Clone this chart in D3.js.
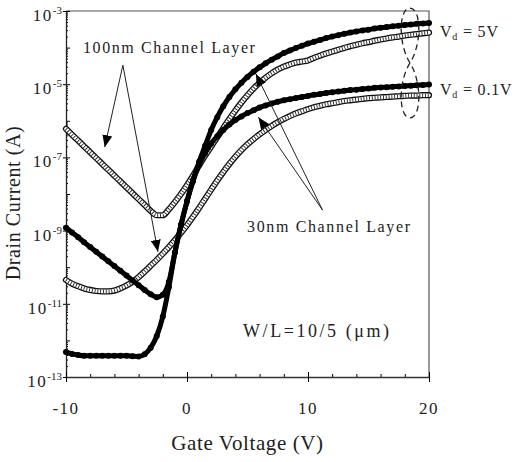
<!DOCTYPE html>
<html lang="en">
<head>
<meta charset="UTF-8">
<title>Drain Current vs Gate Voltage</title>
<script src="https://d3js.org/d3.v7.min.js"></script>
<style>
  body { margin: 0; background: #fff; }
  svg { display: block; font-family: "Liberation Serif", "Times New Roman", serif; }
</style>
</head>
<body>
<svg id="chart" width="521" height="462"></svg>
<script>
// Gate voltage sweep (V)
const gateVoltage = [-10, -9.5, -9, -8.5, -8, -7.5, -7, -6.5, -6, -5.5, -5, -4.5, -4, -3.5, -3, -2.5, -2, -1.5, -1, -0.5,
  0, 0.5, 1, 1.5, 2, 2.5, 3, 3.5, 4, 4.5, 5, 5.5, 6, 6.5, 7, 7.5, 8, 8.5, 9, 9.5,
  10, 10.5, 11, 11.5, 12, 12.5, 13, 13.5, 14, 14.5, 15, 15.5, 16, 16.5, 17, 17.5, 18, 18.5, 19, 19.5, 20];

// log10 of drain current (A)
// 100nm channel (open circles)
const log100nm5V = [-6.22, -6.38, -6.54, -6.70, -6.86, -7.02, -7.18, -7.34, -7.50, -7.66, -7.82, -7.98, -8.14, -8.30, -8.46, -8.58, -8.58, -8.42, -8.22, -8.00,
  -7.76, -7.50, -7.22, -6.95, -6.70, -6.45, -6.20, -5.95, -5.72, -5.50, -5.30, -5.12, -4.96, -4.82, -4.70, -4.60, -4.52, -4.46, -4.41, -4.38,
  -4.35, -4.28, -4.22, -4.16, -4.11, -4.06, -4.01, -3.96, -3.92, -3.88, -3.85, -3.81, -3.78, -3.75, -3.72, -3.70, -3.67, -3.65, -3.63, -3.61, -3.59];
const log100nm01V = [-10.35, -10.45, -10.52, -10.58, -10.62, -10.65, -10.66, -10.66, -10.64, -10.58, -10.50, -10.40, -10.27, -10.12, -9.96, -9.80, -9.63, -9.45, -9.26, -9.06,
  -8.85, -8.62, -8.38, -8.13, -7.88, -7.63, -7.40, -7.18, -6.98, -6.80, -6.64, -6.50, -6.37, -6.25, -6.14, -6.04, -5.95, -5.87, -5.80, -5.74,
  -5.68, -5.63, -5.59, -5.55, -5.52, -5.49, -5.46, -5.44, -5.42, -5.40, -5.38, -5.37, -5.36, -5.35, -5.34, -5.33, -5.32, -5.31, -5.31, -5.30, -5.30];
// 30nm channel (filled circles)
const log30nm5V = [-12.32, -12.37, -12.40, -12.42, -12.42, -12.42, -12.42, -12.42, -12.42, -12.42, -12.42, -12.43, -12.44, -12.38, -12.20, -11.88, -11.35, -10.55, -9.60, -8.85,
  -8.20, -7.62, -7.12, -6.68, -6.25, -5.90, -5.60, -5.35, -5.14, -4.96, -4.80, -4.66, -4.54, -4.43, -4.33, -4.24, -4.15, -4.08, -4.01, -3.95,
  -3.89, -3.84, -3.79, -3.74, -3.70, -3.66, -3.62, -3.59, -3.56, -3.53, -3.51, -3.48, -3.46, -3.44, -3.42, -3.40, -3.38, -3.37, -3.35, -3.34, -3.33];
const log30nm01V = [-8.92, -9.05, -9.18, -9.32, -9.45, -9.58, -9.71, -9.84, -9.97, -10.10, -10.23, -10.36, -10.49, -10.62, -10.74, -10.82, -10.75, -10.40, -9.60, -8.85,
  -8.20, -7.65, -7.20, -6.88, -6.62, -6.42, -6.25, -6.10, -5.98, -5.88, -5.79, -5.71, -5.64, -5.58, -5.53, -5.48, -5.44, -5.41, -5.38, -5.35,
  -5.32, -5.29, -5.27, -5.24, -5.22, -5.20, -5.18, -5.16, -5.15, -5.13, -5.12, -5.10, -5.09, -5.08, -5.07, -5.06, -5.05, -5.04, -5.03, -5.02, -5.01];

// axis ticks
const xLabelTicks = [-10, 0, 10, 20];
const xMinorTicks = [-8, -6, -4, -2, 2, 4, 6, 8, 12, 14, 16, 18];
const yLabelExponents = [-3, -5, -7, -9, -11, -13];

const width = 521, height = 462;
const margin = { top: 11, right: 92, bottom: 85, left: 66 };

const svg = d3.select("#chart");

const x = d3.scaleLinear().domain([-10, 20]).range([margin.left, width - margin.right]);
const y = d3.scaleLog().domain([1e-13, 1e-3]).range([height - margin.bottom, margin.top]);
const amp = e => Math.pow(10, e);

// frame (top + right)
svg.append("path")
   .attr("d", `M${x(-10)},${y(1e-3)}H${x(20)}V${y(1e-13)}`)
   .attr("fill", "none")
   .attr("stroke", "#555")
   .attr("stroke-width", 1.2);

// y axis: minor ticks
const yMinor = [];
for (let k = -13; k < -3; k++) for (let m = 2; m <= 9; m++) yMinor.push(m * Math.pow(10, k));
const yDecades = d3.range(-13, -2).map(amp);

svg.append("g")
   .attr("transform", `translate(${x(-10)},0)`)
   .call(d3.axisRight(y).tickValues(yMinor).tickSize(2).tickSizeOuter(0).tickFormat(""))
   .call(g => g.select(".domain").remove());
svg.append("g")
   .attr("transform", `translate(${x(-10)},0)`)
   .call(d3.axisRight(y).tickValues(yDecades).tickSize(4).tickSizeOuter(0).tickFormat(""))
   .call(g => g.select(".domain").remove());
const yAxis = svg.append("g")
   .attr("transform", `translate(${x(-10)},0)`)
   .call(d3.axisLeft(y).tickValues(yLabelExponents.map(amp)).tickSize(3).tickSizeOuter(0).tickFormat(""));
yAxis.select(".domain").attr("stroke", "#222").attr("stroke-width", 1.3);

const yLab = svg.append("g").selectAll("text")
   .data(yLabelExponents)
   .enter().append("text")
   .attr("x", x(-10) - 4)
   .attr("y", d => y(amp(d)) + 10)
   .attr("text-anchor", "end")
   .attr("fill", "#222");
yLab.append("tspan").attr("font-size", 17).attr("letter-spacing", 1.5).text("10");
yLab.append("tspan").attr("font-size", 11).attr("dy", -7).text(d => String(d));

// x axis
svg.append("g")
   .attr("transform", `translate(0,${y(1e-13)})`)
   .call(d3.axisTop(x).tickValues(xMinorTicks).tickSize(3).tickSizeOuter(0).tickFormat(""))
   .call(g => g.select(".domain").remove());
svg.append("g")
   .attr("transform", `translate(0,${y(1e-13)})`)
   .call(d3.axisTop(x).tickValues(xLabelTicks).tickSize(5).tickSizeOuter(0).tickFormat(""))
   .call(g => g.select(".domain").remove());
const xAxis = svg.append("g")
   .attr("transform", `translate(0,${y(1e-13)})`)
   .call(d3.axisBottom(x).tickValues(xLabelTicks).tickSize(5).tickSizeOuter(0).tickFormat(""));
xAxis.select(".domain").attr("stroke", "#333").attr("stroke-width", 1.3);

svg.append("g").selectAll("text")
   .data(xLabelTicks)
   .enter().append("text")
   .attr("x", d => x(d))
   .attr("y", y(1e-13) + 37)
   .attr("text-anchor", "middle")
   .attr("font-size", 17)
   .attr("letter-spacing", 1.5)
   .attr("fill", "#222")
   .text(d => String(d));

// axis titles
svg.append("text")
   .attr("x", (x(-10) + x(20)) / 2)
   .attr("y", 450)
   .attr("text-anchor", "middle")
   .attr("font-size", 21)
   .attr("letter-spacing", 0.6)
   .attr("fill", "#222")
   .text("Gate Voltage (V)");
svg.append("text")
   .attr("transform", `translate(20,${(y(1e-3) + y(1e-13)) / 2 + 9}) rotate(-90)`)
   .attr("text-anchor", "middle")
   .attr("font-size", 20)
   .attr("letter-spacing", 0.6)
   .attr("fill", "#222")
   .text("Drain Current (A)");

// curves
const line = d3.line()
   .x((d, i) => x(gateVoltage[i]))
   .y(d => y(amp(d)))
   .curve(d3.curveMonotoneX);

const openSeries = [log100nm5V, log100nm01V];
const filledSeries = [log30nm5V, log30nm01V];

openSeries.forEach(s => {
  svg.append("path").attr("d", line(s)).attr("fill", "none")
     .attr("stroke", "#111").attr("stroke-width", 6.2).attr("stroke-linecap", "round");
  svg.append("path").attr("d", line(s)).attr("fill", "none")
     .attr("stroke", "#fff").attr("stroke-width", 3.6).attr("stroke-linecap", "round");
  svg.append("path").attr("d", line(s)).attr("fill", "none")
     .attr("stroke", "#222").attr("stroke-width", 3.6).attr("stroke-dasharray", "0.9 1.9");
});

filledSeries.forEach(s => {
  svg.append("path").attr("d", line(s)).attr("fill", "none")
     .attr("stroke", "#000").attr("stroke-width", 5).attr("stroke-linecap", "round");
  svg.append("g").selectAll("circle")
     .data(s)
     .enter().append("circle")
     .attr("cx", (d, i) => x(gateVoltage[i]))
     .attr("cy", d => y(amp(d)))
     .attr("r", 3)
     .attr("fill", "#000");
});

// arrow heads
svg.append("defs").append("marker")
   .attr("id", "head")
   .attr("viewBox", "0 0 12 10")
   .attr("refX", 12).attr("refY", 5)
   .attr("markerWidth", 12).attr("markerHeight", 10)
   .attr("markerUnits", "userSpaceOnUse")
   .attr("orient", "auto")
   .append("path").attr("d", "M0,0L12,5L0,10Z").attr("fill", "#000");

// annotations (data coordinates)
const arrows = [
  { from: [-5.3, -4.48], to: [-6.8, -6.72] },
  { from: [-5.3, -4.48], to: [-2.4, -9.58] },
  { from: [11.2, -8.44], to: [5.7, -4.72] },
  { from: [11.2, -8.44], to: [5.9, -5.9] }
];
svg.append("g").selectAll("line")
   .data(arrows)
   .enter().append("line")
   .attr("x1", d => x(d.from[0])).attr("y1", d => y(amp(d.from[1])))
   .attr("x2", d => x(d.to[0])).attr("y2", d => y(amp(d.to[1])))
   .attr("stroke", "#222").attr("stroke-width", 1)
   .attr("marker-end", "url(#head)");

const notes = [
  { text: "100nm Channel Layer", v: -8.6, e: -4.15, len: 172, size: 16 },
  { text: "30nm Channel Layer", v: 4.96, e: -9.04, len: 163, size: 16 },
  { text: "W/L=10/5 (\u03bcm)", v: 4.63, e: -11.9, len: 146, size: 18 }
];
svg.append("g").selectAll("text")
   .data(notes)
   .enter().append("text")
   .attr("x", d => x(d.v))
   .attr("y", d => y(amp(d.e)))
   .attr("font-size", d => d.size)
   .attr("textLength", d => d.len)
   .attr("lengthAdjust", "spacing")
   .attr("fill", "#222")
   .text(d => d.text);

// Vd labels
const vdLabels = [{ val: "5V", e: -3.71 }, { val: "0.1V", e: -5.3 }];
const vd = svg.append("g").selectAll("text")
   .data(vdLabels)
   .enter().append("text")
   .attr("x", x(20) + 11)
   .attr("y", d => y(amp(d.e)))
   .attr("font-size", 16)
   .attr("letter-spacing", 0.8)
   .attr("fill", "#222");
vd.append("tspan").text("V");
vd.append("tspan").attr("font-size", 10).attr("dy", 3).text("d");
vd.append("tspan").attr("dy", -3).text(d => " = " + d.val);

// dashed figure-eight round the curve ends
const cx = x(18.43), hw = x(19.1) - x(18.43);
const ty = y(amp(-2.92)), wy = y(amp(-4.42)), by = y(amp(-5.92));
svg.append("path")
   .attr("d", `M${cx},${wy}C${cx - 1.5 * hw},${wy - 0.35 * (wy - ty)} ${cx - 1.4 * hw},${ty} ${cx},${ty}` +
              `C${cx + 1.4 * hw},${ty} ${cx + 1.5 * hw},${wy - 0.35 * (wy - ty)} ${cx},${wy}` +
              `C${cx - 1.5 * hw},${wy + 0.35 * (by - wy)} ${cx - 1.4 * hw},${by} ${cx},${by}` +
              `C${cx + 1.4 * hw},${by} ${cx + 1.5 * hw},${wy + 0.35 * (by - wy)} ${cx},${wy}`)
   .attr("fill", "none")
   .attr("stroke", "#222")
   .attr("stroke-width", 1.3)
   .attr("stroke-dasharray", "6 4");
</script>
</body>
</html>
